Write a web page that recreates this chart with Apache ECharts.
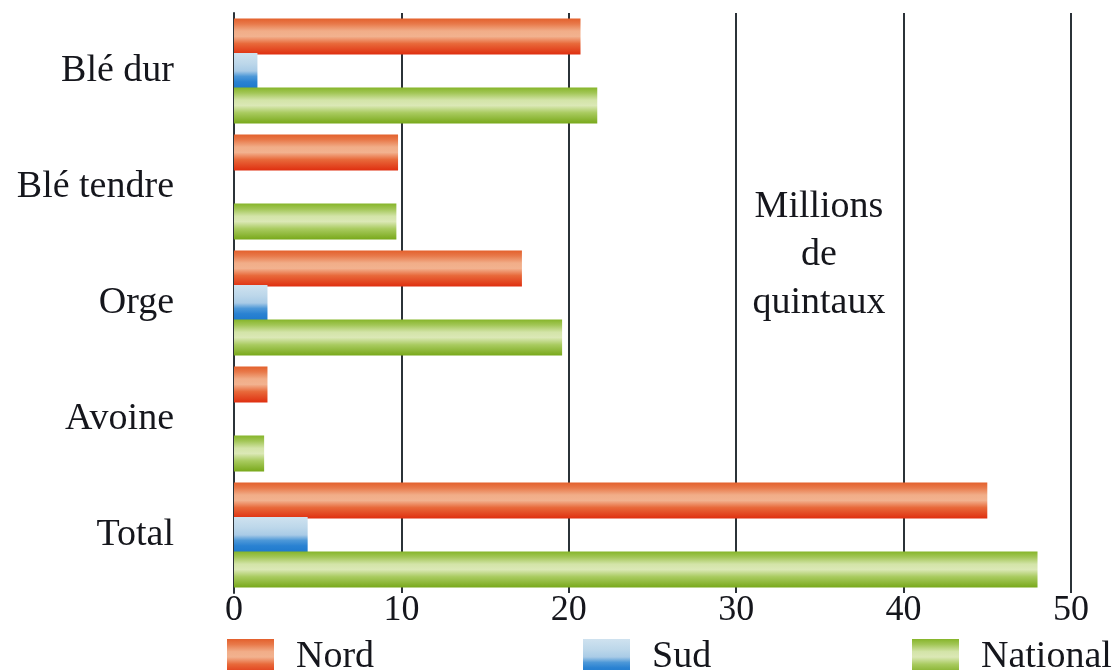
<!DOCTYPE html>
<html>
<head>
<meta charset="utf-8">
<script src="https://cdn.jsdelivr.net/npm/echarts@6/dist/echarts.min.js"></script>
<style>
  html, body { margin: 0; padding: 0; background: #fff; }
  #chart { width: 1117px; height: 670px; }
</style>
</head>
<body>
<div id="chart"></div>
<script>
// Cereal production by region, in millions of quintals
const categories = ['Blé dur', 'Blé tendre', 'Orge', 'Avoine', 'Total'];
const nord     = [20.7, 9.8, 17.2, 2.0, 45.0];
const sud      = [1.4, 0, 2.0, 0, 4.4];
const national = [21.7, 9.7, 19.6, 1.8, 48.0];
const xTicks   = [0, 10, 20, 30, 40, 50];

const SERIF = '"Liberation Serif", "DejaVu Serif", serif';
const INK = '#15161c';
const GRID_INK = '#2b3238';

function vgrad(stops) {
  return new echarts.graphic.LinearGradient(0, 0, 0, 1,
    stops.map(([offset, color]) => ({ offset, color })));
}

const nordFill = vgrad([
  [0, '#e3602c'], [0.15, '#e8794a'], [0.35, '#f1ad88'], [0.5, '#f2b28f'],
  [0.7, '#e8693a'], [1, '#df2f10']
]);
const sudFill = vgrad([
  [0, '#cfe2ef'], [0.3, '#bcd7ea'], [0.5, '#a9cbe6'], [0.65, '#4d98d8'],
  [0.8, '#2a82d2'], [1, '#1d78cc']
]);
const natFill = vgrad([
  [0, '#86b52a'], [0.15, '#a2c656'], [0.35, '#d3e4a8'], [0.5, '#dbe8b6'],
  [0.7, '#a9cb60'], [1, '#78a81a']
]);

const legendText = { fontFamily: SERIF, fontSize: 38, color: INK, padding: [0, 0, 0, 17] };
function legendAt(name, left) {
  return {
    data: [name], left, top: 638, padding: 0, icon: 'rect',
    itemWidth: 47, itemHeight: 36, selectedMode: false,
    textStyle: legendText
  };
}

const chart = echarts.init(document.getElementById('chart'), null, { renderer: 'canvas' });
chart.setOption({
  animation: false,
  backgroundColor: '#ffffff',
  legend: [
    legendAt('Nord', 227),
    legendAt('Sud', 583),
    legendAt('National', 912)
  ],
  grid: { left: 234, right: 46, top: 13, height: 580, containLabel: false },
  xAxis: {
    type: 'value',
    min: xTicks[0], max: xTicks[xTicks.length - 1], interval: 10,
    axisLine: { show: false },
    axisTick: { show: false },
    axisLabel: {
      fontFamily: SERIF, fontSize: 36, color: INK, margin: 0,
      formatter: v => (xTicks.includes(v) ? String(v) : '')
    },
    splitLine: { show: true, lineStyle: { color: GRID_INK, width: 2 } }
  },
  yAxis: {
    type: 'category',
    data: categories,
    inverse: true,
    axisLine: { show: true, lineStyle: { color: GRID_INK, width: 2 } },
    axisTick: { show: false },
    axisLabel: { fontFamily: SERIF, fontSize: 38, color: INK, margin: 60 },
    splitLine: { show: false }
  },
  graphic: [{
    type: 'text',
    x: 819, y: 183,
    style: {
      text: 'Millions\nde\nquintaux',
      font: '38px ' + SERIF,
      fill: INK,
      align: 'center',
      verticalAlign: 'top',
      lineHeight: 48
    }
  }],
  series: [
    { name: 'Nord', type: 'bar', data: nord, barWidth: 36, barGap: '-4%',
      itemStyle: { color: nordFill } },
    { name: 'Sud', type: 'bar', data: sud, barWidth: 36, barGap: '-4%',
      itemStyle: { color: sudFill } },
    { name: 'National', type: 'bar', data: national, barWidth: 36, barGap: '-4%',
      itemStyle: { color: natFill } }
  ]
});
</script>
</body>
</html>
